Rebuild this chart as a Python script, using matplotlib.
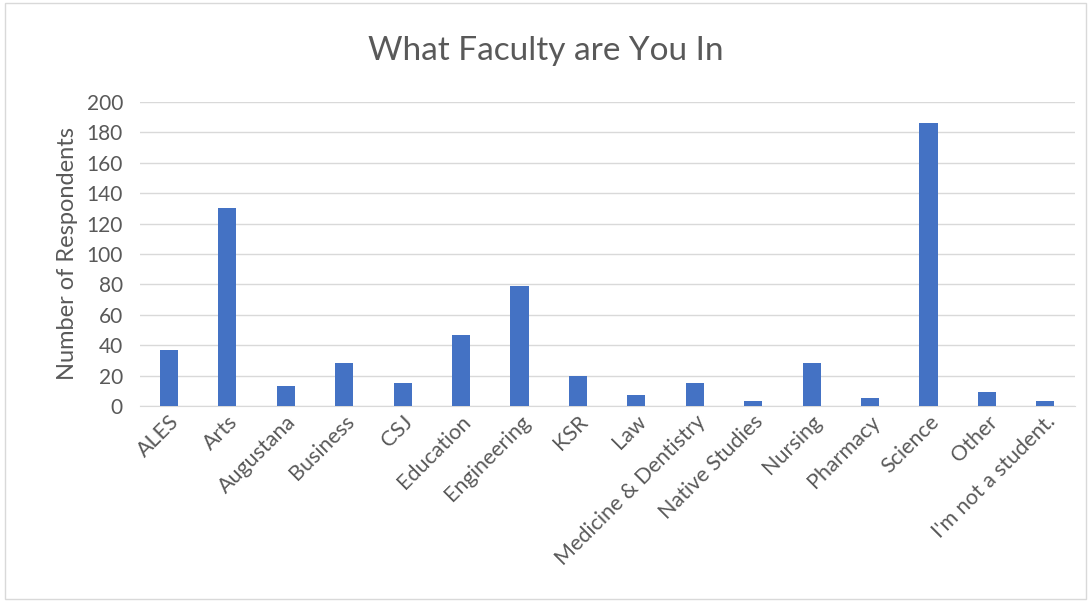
import matplotlib
matplotlib.use("Agg")
import matplotlib.pyplot as plt
from matplotlib.patches import Rectangle

plt.rcParams['font.family'] = ['Lato', 'DejaVu Sans']

# data
faculties = ["ALES", "Arts", "Augustana", "Business", "CSJ", "Education",
             "Engineering", "KSR", "Law", "Medicine & Dentistry", "Native Studies",
             "Nursing", "Pharmacy", "Science", "Other", "I'm not a student."]
respondents = [37, 130, 13, 28, 15, 47, 79, 20, 7, 15, 3, 28, 5, 186, 9, 3]

grey = "#595959"
fig = plt.figure(figsize=(10.91, 6.02), dpi=100)
ax = fig.add_axes([0.128, 0.3256, 0.857, 0.505])

x = range(len(faculties))
ax.bar(x, respondents, width=0.31, color="#4472C4", zorder=3)

ax.set_ylim(0, 200)
ax.set_xlim(-0.5, len(faculties) - 0.5)
ax.set_yticks(range(0, 201, 20))
ax.grid(axis="y", color="#d9d9d9", linewidth=1, zorder=0)
for s in ["top", "right", "left"]:
    ax.spines[s].set_visible(False)
ax.spines["bottom"].set_color("#d9d9d9")
ax.tick_params(axis="both", length=0, colors=grey)
ax.tick_params(axis="y", pad=12, labelsize=15)
ax.tick_params(axis="x", labelsize=15.5, pad=4)
ax.set_xticks(list(x))
ax.set_xticklabels(faculties, rotation=45, ha="right", rotation_mode="anchor")
ax.set_ylabel("Number of Respondents", color=grey, fontsize=17, labelpad=6)
fig.suptitle("What Faculty are You In", color=grey, fontsize=24, y=0.94)

# chart area border
fig.patches.append(Rectangle((0.005, 0.005), 0.99, 0.99, transform=fig.transFigure,
                             fill=False, edgecolor="#d9d9d9", linewidth=1))

fig.savefig("out.png", dpi=100)
